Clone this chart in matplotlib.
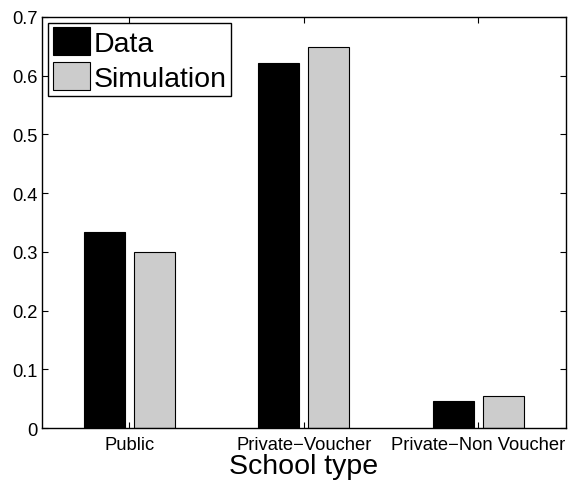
import matplotlib
matplotlib.use("Agg")
import matplotlib.pyplot as plt
import numpy as np

categories = ["Public", "Private\u2212Voucher", "Private\u2212Non Voucher"]
data = [0.333, 0.622, 0.046]
simulation = [0.299, 0.648, 0.055]
yticks = [0, 0.1, 0.2, 0.3, 0.4, 0.5, 0.6, 0.7]
ytick_labels = ["0", "0.1", "0.2", "0.3", "0.4", "0.5", "0.6", "0.7"]

plt.rcParams['font.family'] = ['Liberation Sans', 'DejaVu Sans']

fig = plt.figure(figsize=(5.68, 4.81), dpi=100)
ax = fig.add_axes([0.074, 0.108, 0.922, 0.855])

x = np.arange(1, len(categories) + 1)
w = 0.235
off = 0.143
ax.bar(x - off, data, w, color="black", edgecolor="black", linewidth=0.8, label="Data")
ax.bar(x + off, simulation, w, color="#cccccc", edgecolor="black", linewidth=0.8, label="Simulation")

ax.set_xlim(0.5, 3.5)
ax.set_ylim(0, 0.7)
ax.set_xticks(x)
ax.set_xticklabels(categories, fontsize=13.2)
ax.set_yticks(yticks)
ax.set_yticklabels(ytick_labels, fontsize=13.2)
ax.tick_params(direction="in", top=True, right=True, length=4, width=0.8)
ax.tick_params(axis="y", pad=3)
ax.tick_params(axis="x", pad=6)
for s in ax.spines.values():
    s.set_linewidth(1.0)
ax.set_xlabel("School type", fontsize=20.5, labelpad=0)

leg = ax.legend(loc="upper left", fontsize=20.5, frameon=True, fancybox=False,
                edgecolor="black", framealpha=1, borderpad=0.15, handlelength=1.3,
                handleheight=1.1, handletextpad=0.15, labelspacing=0.2,
                borderaxespad=0.22)
leg.get_frame().set_linewidth(1.0)

fig.savefig("out.png", dpi=100)
